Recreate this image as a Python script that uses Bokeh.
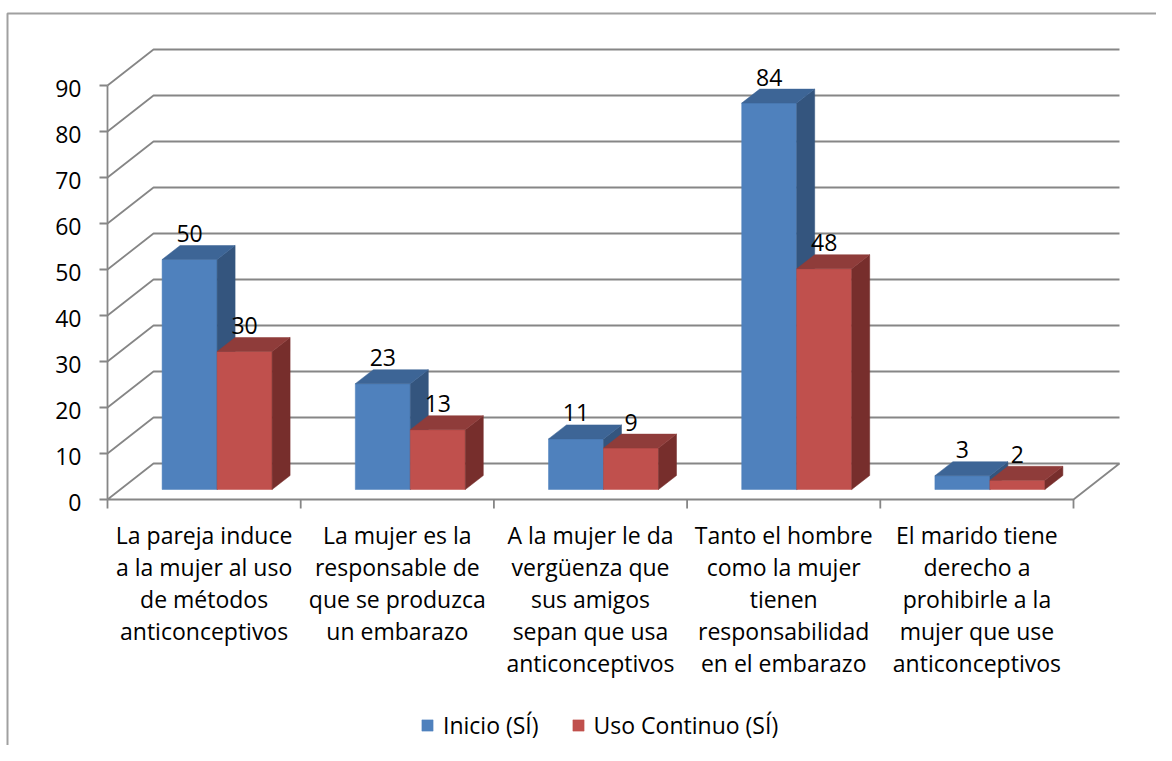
from bokeh.plotting import figure
from bokeh.models import Range1d, ColumnDataSource, Legend, LegendItem
from bokeh.core.properties import value
from bokeh.embed import file_html
from bokeh.resources import INLINE

# ---------------- data ----------------
categories = [
    "La pareja induce\na la mujer al uso\nde métodos\nanticonceptivos",
    "La mujer es la\nresponsable de\nque se produzca\nun embarazo",
    "A la mujer le da\nvergüenza que\nsus amigos\nsepan que usa\nanticonceptivos",
    "Tanto el hombre\ncomo la mujer\ntienen\nresponsabilidad\nen el embarazo",
    "El marido tiene\nderecho a\nprohibirle a la\nmujer que use\nanticonceptivos",
]
series_names = ["Inicio (SÍ)", "Uso Continuo (SÍ)"]
inicio = [50, 23, 11, 84, 3]
uso_continuo = [30, 13, 9, 48, 2]
y_ticks = [0, 10, 20, 30, 40, 50, 60, 70, 80, 90]

# ---------------- styling / geometry ----------------
W, H = 1156, 745
PX_X = 193.2          # pixels per category
PX_Y = 4.6            # pixels per value unit
OX, OY = 107, 499     # figure pixel position of (0, 0)
FONT = "Open Sans"
FS = "23px"
GRID = "#868686"
front_cols = ["#4F81BD", "#C0504D"]
top_cols = ["#3D6596", "#8F3C3A"]
side_cols = ["#34557E", "#772E2C"]

def dx(px):
    return px / PX_X

def dy(px):
    return px / PX_Y

n = len(categories)
ymax = y_ticks[-1]

p = figure(width=W, height=H, output_backend="svg", toolbar_location=None,
           x_range=Range1d(-OX / PX_X, (W - OX) / PX_X),
           y_range=Range1d(-(H - OY) / PX_Y, OY / PX_Y),
           x_axis_location=None, y_axis_location=None, min_border=0)
p.grid.visible = False
p.outline_line_color = None
p.background_fill_color = "white"
p.border_fill_color = "white"

# outer chart border (left and top)
x_left_border = -OX / PX_X + dx(7)
y_top_border = OY / PX_Y - dy(13)
p.line([x_left_border, x_left_border, (W - OX) / PX_X],
       [-(H - OY) / PX_Y, y_top_border, y_top_border],
       line_color="#a0a0a0", line_width=2)

# walls & gridlines
WX, WY = dx(46), dy(36)
gxs, gys = [], []
for v in y_ticks:
    if v == 0:
        continue
    gxs.append([0, WX, n + WX])
    gys.append([v, v + WY, v + WY])
# floor
gxs.append([0, WX, n + WX, n, 0])
gys.append([0, WY, WY, 0, 0])
# y-axis line
gxs.append([0, 0])
gys.append([0, ymax])
# y ticks
for v in y_ticks:
    gxs.append([-dx(8), 0])
    gys.append([v, v])
# category ticks
for i in range(n + 1):
    gxs.append([i, i])
    gys.append([0, -dy(9)])
p.multi_line(gxs, gys, line_color=GRID, line_width=1.8)

# bars
BW, FX, FY = dx(55), dx(13), dy(10)
DX, DY = dx(18), dy(14)
front_renderers = []
label_x, label_y, label_t = [], [], []
for s, vals in enumerate([inicio, uso_continuo]):
    lefts = [i + 0.5 - BW + s * BW + FX for i in range(n)]
    rights = [l + BW for l in lefts]
    tops = [v + FY for v in vals]
    src = ColumnDataSource(dict(left=lefts, right=rights, bottom=[FY] * n, top=tops))
    r = p.quad(left="left", right="right", bottom="bottom", top="top", source=src,
               fill_color=front_cols[s], line_color=front_cols[s], line_width=0.5)
    front_renderers.append(r)
    side_xs = [[rr, rr + DX, rr + DX, rr] for rr in rights]
    side_ys = [[FY, FY + DY, t + DY, t] for t in tops]
    p.patches(side_xs, side_ys, fill_color=side_cols[s], line_color=side_cols[s], line_width=0.5)
    top_xs = [[l, l + DX, rr + DX, rr] for l, rr in zip(lefts, rights)]
    top_ys = [[t, t + DY, t + DY, t] for t in tops]
    p.patches(top_xs, top_ys, fill_color=top_cols[s], line_color=top_cols[s], line_width=0.5)
    for l, rr, t, v in zip(lefts, rights, tops, vals):
        label_x.append((l + rr) / 2)
        label_y.append(t)
        label_t.append(str(v))

# data labels
p.text(label_x, label_y, text=label_t, text_font=value(FONT), text_font_size=FS,
       text_align="center", text_baseline="middle", y_offset=-26, text_color="black")

# y tick labels
p.text([0] * len(y_ticks), y_ticks, text=[str(v) for v in y_ticks], text_font=value(FONT),
       text_font_size=FS, text_align="right", text_baseline="middle",
       x_offset=-26, y_offset=3, text_color="black")

# category labels
for i, c in enumerate(categories):
    lines = c.split("\n")
    for k, line in enumerate(lines):
        p.text([i + 0.5], [0], text=[line], text_font=value(FONT), text_font_size=FS,
               text_align="center", text_baseline="middle",
               y_offset=35 + 32 * k, text_color="black")

# legend
legend = Legend(items=[LegendItem(label=series_names[0], renderers=[front_renderers[0]]),
                       LegendItem(label=series_names[1], renderers=[front_renderers[1]])],
                orientation="horizontal", location=(420, 4),
                glyph_width=14, glyph_height=14, label_standoff=9, spacing=32,
                padding=0, margin=0, border_line_color=None, background_fill_alpha=0,
                label_text_font=FONT, label_text_font_size=FS, label_text_color="black")
p.add_layout(legend)

open("out.html", "w").write(file_html(p, INLINE))
